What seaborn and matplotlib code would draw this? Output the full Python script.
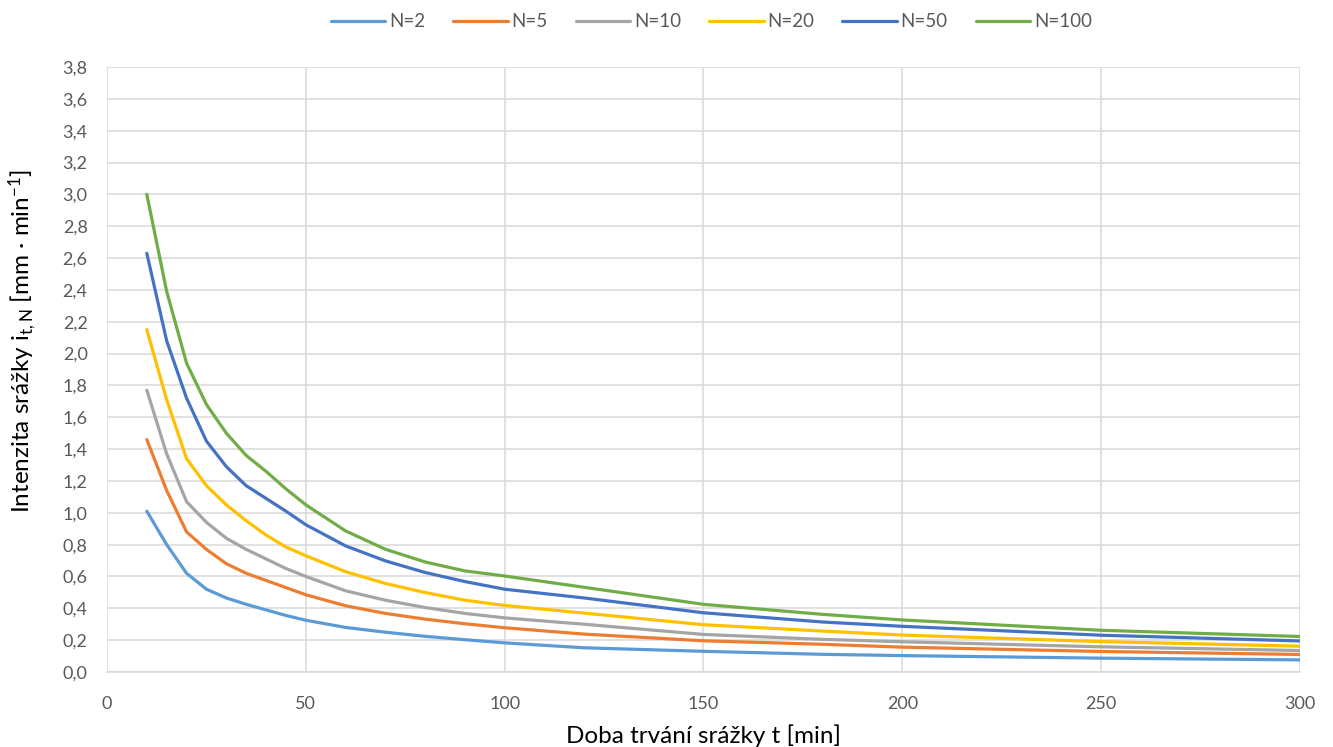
import numpy as np
import pandas as pd
import matplotlib
matplotlib.use("Agg")
import matplotlib.pyplot as plt
from matplotlib.ticker import FuncFormatter, MultipleLocator
import seaborn as sns

# Duration of rainfall [min]
durations = [10, 15, 20, 25, 30, 35, 40, 45, 50, 60, 70, 80, 90, 100, 120, 150, 180, 200, 250, 300]

# Rain intensity i_t,N [mm/min] for each return period N
i_n2 = [1.01, 0.80, 0.62, 0.52, 0.465, 0.425, 0.39, 0.355, 0.325, 0.28, 0.25, 0.224, 0.203, 0.183, 0.152, 0.130, 0.111, 0.103, 0.087, 0.076]
i_n5 = [1.46, 1.14, 0.88, 0.77, 0.68, 0.62, 0.575, 0.53, 0.485, 0.416, 0.368, 0.332, 0.303, 0.278, 0.238, 0.196, 0.174, 0.156, 0.129, 0.110]
i_n10 = [1.77, 1.37, 1.07, 0.94, 0.84, 0.77, 0.71, 0.65, 0.60, 0.51, 0.451, 0.405, 0.368, 0.340, 0.300, 0.236, 0.205, 0.190, 0.158, 0.135]
i_n20 = [2.15, 1.71, 1.34, 1.17, 1.05, 0.95, 0.86, 0.785, 0.73, 0.63, 0.556, 0.499, 0.451, 0.418, 0.370, 0.297, 0.257, 0.232, 0.191, 0.162]
i_n50 = [2.63, 2.08, 1.72, 1.45, 1.29, 1.17, 1.09, 1.01, 0.925, 0.792, 0.698, 0.625, 0.568, 0.520, 0.465, 0.372, 0.314, 0.287, 0.231, 0.195]
i_n100 = [3.00, 2.39, 1.94, 1.68, 1.50, 1.36, 1.26, 1.15, 1.05, 0.886, 0.771, 0.691, 0.635, 0.603, 0.532, 0.425, 0.362, 0.327, 0.262, 0.223]

series_names = ["N=2", "N=5", "N=10", "N=20", "N=50", "N=100"]
series_values = [i_n2, i_n5, i_n10, i_n20, i_n50, i_n100]
colors = ["#5B9BD5", "#ED7D31", "#A5A5A5", "#FFC000", "#4472C4", "#70AD47"]

df = pd.concat(
    [pd.DataFrame({"t": durations, "i": vals, "N": name})
     for name, vals in zip(series_names, series_values)],
    ignore_index=True,
)

sns.set_theme(style="white")
plt.rcParams["font.family"] = ["Lato", "DejaVu Sans"]
plt.rcParams["mathtext.fontset"] = "custom"
plt.rcParams["mathtext.rm"] = "Lato"
plt.rcParams["mathtext.it"] = "Lato"

fig = plt.figure(figsize=(13.33, 7.47), dpi=100)
ax = fig.add_axes([0.0803, 0.1004, 0.8949, 0.8099])

sns.lineplot(data=df, x="t", y="i", hue="N", hue_order=series_names,
             palette=colors, linewidth=2.3, ax=ax, legend=True)

ax.set_xlim(0, 300)
ax.set_ylim(0, 3.8)
ax.xaxis.set_major_locator(MultipleLocator(50))
ax.yaxis.set_major_locator(MultipleLocator(0.2))
ax.yaxis.set_major_formatter(FuncFormatter(lambda v, p: f"{v:.1f}".replace(".", ",")))
ax.xaxis.set_major_formatter(FuncFormatter(lambda v, p: f"{v:.0f}"))

ax.grid(True, color="#d9d9d9", linewidth=1.1)
ax.set_axisbelow(True)
for side in ["top", "right", "left", "bottom"]:
    ax.spines[side].set_visible(False)
ax.spines["bottom"].set_visible(True)
ax.spines["bottom"].set_color("#d9d9d9")
ax.spines["bottom"].set_linewidth(1.1)

ax.tick_params(axis="both", length=0, labelsize=13, colors="#595959")
ax.tick_params(axis="x", pad=17)
ax.tick_params(axis="y", pad=14)

ax.set_xlabel("Doba trvání srážky t [min]", fontsize=17.5, color="#000000", labelpad=9)
ax.set_ylabel(r"Intenzita srážky i$_{\mathrm{t,N}}$ [mm · min$^{\mathrm{-1}}$]",
              fontsize=17.5, color="#000000")
ax.yaxis.set_label_coords(-0.057, 0.547)

handles, labels = ax.get_legend_handles_labels()
ax.legend(handles, labels, loc="center", bbox_to_anchor=(0.5067, 1.075),
          ncol=6, frameon=False, fontsize=13.5, handlelength=2.9,
          handletextpad=0.2, columnspacing=1.5, labelcolor="#595959")

fig.savefig("out.png", dpi=100)
